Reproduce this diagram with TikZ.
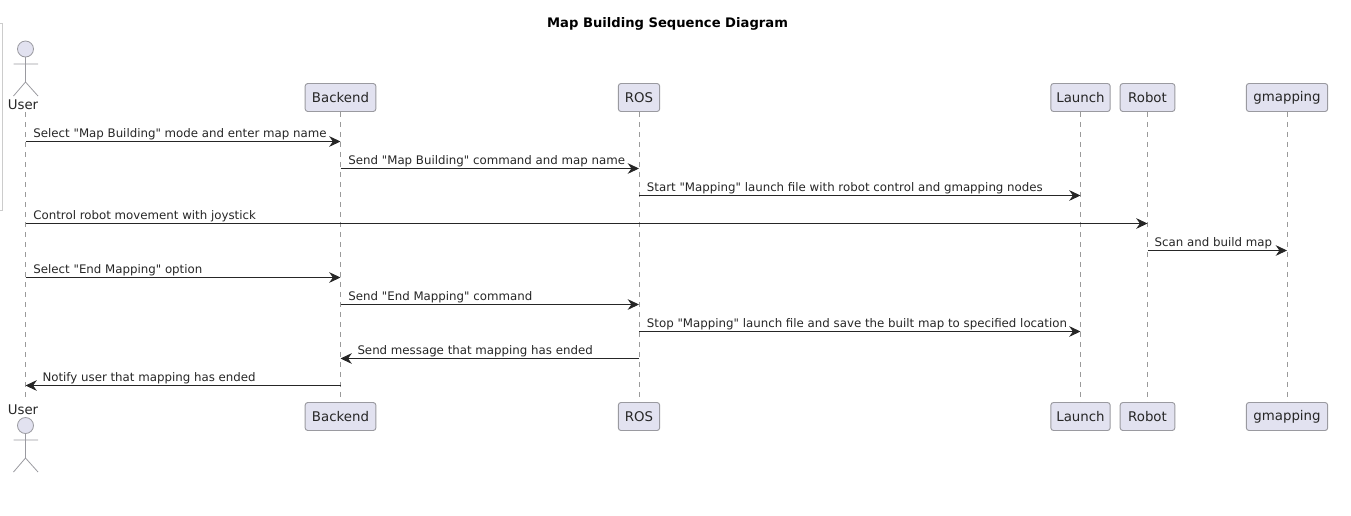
\documentclass[tikz,border=0pt]{standalone}
\usepackage{fontspec}
\setmainfont{DejaVu Sans}[Ligatures=TeXOff]
\usetikzlibrary{arrows.meta,positioning}
\definecolor{partfill}{HTML}{E2E2F0}
\definecolor{partline}{HTML}{9A9AA0}
\definecolor{lifegray}{HTML}{9A9A9A}
\tikzset{
  part/.style={draw=partline, fill=partfill, rounded corners=2pt, line width=0.7pt,
    minimum height=21pt, inner xsep=0pt, font=\fontsize{10}{11}\selectfont, text=black!85},
  lifeline/.style={draw=lifegray, line width=0.5pt, dash pattern=on 3.75pt off 3.75pt},
  msg/.style={draw=black!85, line width=0.7pt,
    -{Stealth[length=8.5pt,width=8pt,inset=2.8pt]}},
  msglabel/.style={anchor=base west, inner sep=0pt, font=\fontsize{8.85}{10}\selectfont, text=black!85},
  actorline/.style={draw=partline, line width=0.6pt},
  actorname/.style={inner sep=0pt, font=\fontsize{10}{11}\selectfont, text=black!85}
}
\begin{document}
\begin{tikzpicture}[x=0.75pt,y=-0.75pt,>=Stealth]
\useasboundingbox (0,0) rectangle (1351,515);
% --- Title ---
\node[font=\bfseries\fontsize{9.85}{11}\selectfont, text=black] (title) at (667.5,23.5)
  {Map Building Sequence Diagram};
% --- Frame stub on the left edge ---
\draw[black!20, line width=0.7pt] (0,23) -- (2,23) -- (2,210) -- (0,210);
% --- Participants, top row ---
\node[part, minimum width=53pt] (backendTop) at (340.5,97.5) {Backend};
\node[part, minimum width=31pt] (rosTop) at (639,97.5) {ROS};
\node[part, minimum width=44.5pt] (launchTop) at (1080.5,97.5) {Launch};
\node[part, minimum width=41pt] (robotTop) at (1147.5,97.5) {Robot};
\node[part, minimum width=61pt] (gmappingTop) at (1287,97.5) {gmapping};
% --- Participants, bottom row ---
\node[part, minimum width=53pt] (backendBot) at (340.5,416.5) {Backend};
\node[part, minimum width=31pt] (rosBot) at (639,416.5) {ROS};
\node[part, minimum width=44.5pt] (launchBot) at (1080.5,416.5) {Launch};
\node[part, minimum width=41pt] (robotBot) at (1147.5,416.5) {Robot};
\node[part, minimum width=61pt] (gmappingBot) at (1287,416.5) {gmapping};
% --- Actor, top ---
\node[actorname] (userTop) at (23,104.5) {User};
\draw[actorline, fill=partfill] (25.5,49) circle (6pt);
\draw[actorline] (25.5,57) -- (25.5,82) (13.5,64) -- (38,64)
  (13.5,96) -- (25.5,82) -- (38,96);
% --- Actor, bottom ---
\node[actorname] (userBot) at (23,410) {User};
\draw[actorline, fill=partfill] (25.5,425.5) circle (6pt);
\draw[actorline] (25.5,433.5) -- (25.5,458) (13.5,440) -- (38,440)
  (13.5,472) -- (25.5,458) -- (38,472);
% --- Lifelines ---
\coordinate (userA) at (25.5,112);
\coordinate (userB) at (25.5,401);
\draw[lifeline] (userA) -- (userB);
\draw[lifeline] (backendTop.south) -- (backendBot.north);
\draw[lifeline] (rosTop.south) -- (rosBot.north);
\draw[lifeline] (launchTop.south) -- (launchBot.north);
\draw[lifeline] (robotTop.south) -- (robotBot.north);
\draw[lifeline] (gmappingTop.south) -- (gmappingBot.north);
% --- Message rows ---
\coordinate (r1) at (0,141.5);
\coordinate (r2) at (0,168.5);
\coordinate (r3) at (0,195.5);
\coordinate (r4) at (0,223.5);
\coordinate (r5) at (0,250.5);
\coordinate (r6) at (0,277.5);
\coordinate (r7) at (0,304.5);
\coordinate (r8) at (0,331.5);
\coordinate (r9) at (0,358.5);
\coordinate (r10) at (0,385.5);
% --- Messages ---
\draw[msg] (userA |- r1) -- (backendTop |- r1)
  node[msglabel, pos=0, xshift=5.6pt, yshift=3pt] {Select "Map Building" mode and enter map name};
\draw[msg] (backendTop |- r2) -- (rosTop |- r2)
  node[msglabel, pos=0, xshift=5.6pt, yshift=3pt] {Send "Map Building" command and map name};
\draw[msg] (rosTop |- r3) -- (launchTop |- r3)
  node[msglabel, pos=0, xshift=5.6pt, yshift=3pt] {Start "Mapping" launch file with robot control and gmapping nodes};
\draw[msg] (userA |- r4) -- (robotTop |- r4)
  node[msglabel, pos=0, xshift=5.6pt, yshift=3pt] {Control robot movement with joystick};
\draw[msg] (robotTop |- r5) -- (gmappingTop |- r5)
  node[msglabel, pos=0, xshift=5pt, yshift=3pt] {Scan and build map};
\draw[msg] (userA |- r6) -- (backendTop |- r6)
  node[msglabel, pos=0, xshift=5.6pt, yshift=3pt] {Select "End Mapping" option};
\draw[msg] (backendTop |- r7) -- (rosTop |- r7)
  node[msglabel, pos=0, xshift=5.6pt, yshift=3pt] {Send "End Mapping" command};
\draw[msg] (rosTop |- r8) -- (launchTop |- r8)
  node[msglabel, pos=0, xshift=5.6pt, yshift=3pt] {Stop "Mapping" launch file and save the built map to specified location};
\draw[msg] (rosTop |- r9) -- (backendTop |- r9)
  node[msglabel, pos=1, xshift=12.4pt, yshift=3pt] {Send message that mapping has ended};
\draw[msg] (backendTop |- r10) -- (userA |- r10)
  node[msglabel, pos=1, xshift=12.4pt, yshift=3pt] {Notify user that mapping has ended};
\end{tikzpicture}
\end{document}
